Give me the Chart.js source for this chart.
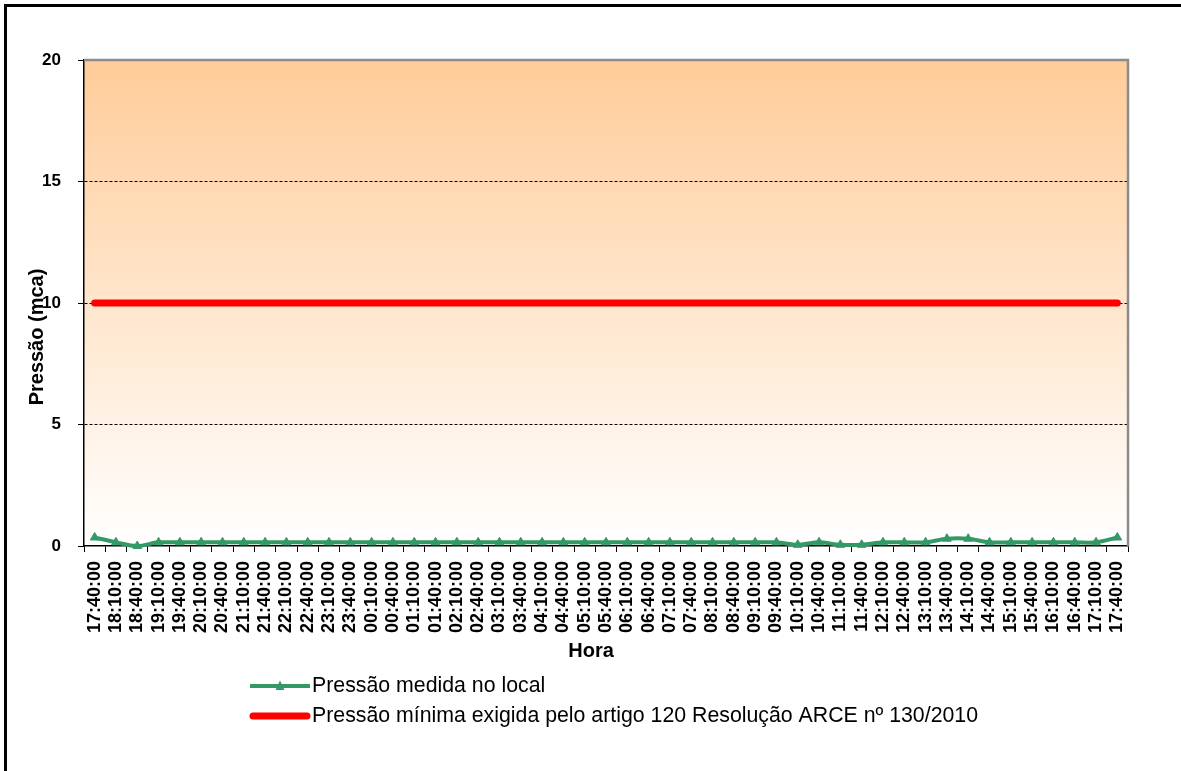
<!DOCTYPE html>
<html><head><meta charset="utf-8">
<script src="https://cdn.jsdelivr.net/npm/chart.js@4.4.1/dist/chart.umd.min.js"></script>
<style>
html,body{margin:0;padding:0;background:#fff;overflow:hidden;}
#wrap{position:relative;width:1181px;height:771px;overflow:hidden;}
#frame{position:absolute;left:4px;top:4px;width:1300px;height:900px;border:3px solid #000;box-sizing:border-box;}
#c{position:absolute;left:0;top:0;}
</style></head><body>
<div id="wrap"><div id="frame"></div><canvas id="c" width="1181" height="771"></canvas></div>
<script>
const categories = ["17:40:00","18:10:00","18:40:00","19:10:00","19:40:00","20:10:00","20:40:00","21:10:00","21:40:00","22:10:00","22:40:00","23:10:00","23:40:00","00:10:00","00:40:00","01:10:00","01:40:00","02:10:00","02:40:00","03:10:00","03:40:00","04:10:00","04:40:00","05:10:00","05:40:00","06:10:00","06:40:00","07:10:00","07:40:00","08:10:00","08:40:00","09:10:00","09:40:00","10:10:00","10:40:00","11:10:00","11:40:00","12:10:00","12:40:00","13:10:00","13:40:00","14:10:00","14:40:00","15:10:00","15:40:00","16:10:00","16:40:00","17:10:00","17:40:00"];
const measuredPressure = [0.35,0.15,0.0,0.15,0.15,0.15,0.15,0.15,0.15,0.15,0.15,0.15,0.15,0.15,0.15,0.15,0.15,0.15,0.15,0.15,0.15,0.15,0.15,0.15,0.15,0.15,0.15,0.15,0.15,0.15,0.15,0.15,0.15,0.05,0.15,0.05,0.05,0.15,0.15,0.15,0.3,0.3,0.15,0.15,0.15,0.15,0.15,0.15,0.35];
const minimumPressure = [10,10,10,10,10,10,10,10,10,10,10,10,10,10,10,10,10,10,10,10,10,10,10,10,10,10,10,10,10,10,10,10,10,10,10,10,10,10,10,10,10,10,10,10,10,10,10,10,10];
const yTicks = [0,5,10,15,20];
const seriesNames = ["Pressão medida no local","Pressão mínima exigida pelo artigo 120 Resolução ARCE nº 130/2010"];
const yTitle = "Pressão (mca)";
const xTitle = "Hora";

const FONT = "'Liberation Sans', Arial, sans-serif";

const bgPlugin = {
  id: 'bg',
  beforeDraw(chart) {
    const {ctx, chartArea: a} = chart;
    const g = ctx.createLinearGradient(0, a.top, 0, a.bottom);
    g.addColorStop(0, '#FFCC99');
    g.addColorStop(1, '#FFFFFF');
    ctx.save();
    ctx.fillStyle = g;
    ctx.fillRect(a.left, a.top, a.right - a.left, a.bottom - a.top);
    ctx.restore();
  },
  beforeDatasetsDraw(chart) {
    const {ctx, chartArea: a} = chart;
    ctx.save();
    ctx.strokeStyle = '#8c8c8c';
    ctx.lineWidth = 2.5;
    ctx.beginPath();
    ctx.moveTo(a.left, a.top);
    ctx.lineTo(a.right, a.top);
    ctx.lineTo(a.right, a.bottom);
    ctx.stroke();
    ctx.restore();
  },
  afterDraw(chart) {
    const {ctx} = chart;
    ctx.save();
    ctx.fillStyle = '#000';
    ctx.font = "bold 20px " + FONT;
    ctx.textAlign = 'center';
    ctx.textBaseline = 'middle';
    ctx.save();
    ctx.translate(37, 337);
    ctx.rotate(-Math.PI / 2);
    ctx.fillText(yTitle, 0, 0);
    ctx.restore();
    ctx.fillText(xTitle, 591, 651);
    const rows = [686, 716];
    chart.data.datasets.forEach((ds, i) => {
      const y = rows[i];
      ctx.save();
      ctx.strokeStyle = ds.borderColor;
      ctx.lineWidth = ds.borderWidth;
      ctx.lineCap = i === 1 ? 'round' : 'butt';
      ctx.beginPath();
      ctx.moveTo(i === 1 ? 253 : 250, y);
      ctx.lineTo(i === 1 ? 307 : 310, y);
      ctx.stroke();
      if (ds.pointRadius > 0) {
        ctx.fillStyle = ds.backgroundColor;
        const r = ds.pointRadius;
        ctx.beginPath();
        ctx.moveTo(280, y - r * 1.1);
        ctx.lineTo(280 + r * 0.9, y + r * 0.8);
        ctx.lineTo(280 - r * 0.9, y + r * 0.8);
        ctx.closePath();
        ctx.fill();
      }
      ctx.restore();
      ctx.font = "21.3px " + FONT;
      ctx.textAlign = 'left';
      ctx.textBaseline = 'middle';
      ctx.fillStyle = '#000';
      ctx.fillText(ds.label, 312, y);
    });
    ctx.restore();
  }
};

new Chart(document.getElementById('c'), {
  type: 'line',
  data: {
    labels: categories,
    datasets: [
      {
        label: seriesNames[0],
        data: measuredPressure,
        borderColor: '#339966',
        backgroundColor: '#339966',
        borderWidth: 4,
        pointStyle: 'triangle',
        pointRadius: 5,
        pointBorderWidth: 1,
        tension: 0.3,
        clip: false
      },
      {
        label: seriesNames[1],
        data: minimumPressure,
        borderColor: '#FF0000',
        backgroundColor: '#FF0000',
        borderWidth: 7,
        borderCapStyle: 'round',
        pointRadius: 0,
        tension: 0,
        clip: false
      }
    ]
  },
  options: {
    responsive: false,
    animation: false,
    devicePixelRatio: 1,
    layout: { padding: { left: 0, top: 60, right: 53, bottom: 0 } },
    plugins: { legend: { display: false }, tooltip: { enabled: false } },
    scales: {
      x: {
        offset: true,
        afterFit: s => { s.height = 225; },
        grid: { offset: true, drawOnChartArea: false, drawTicks: true, tickLength: 6, tickColor: '#000', tickWidth: 1 },
        border: { display: true, color: '#000', width: 1.5 },
        ticks: {
          autoSkip: false, maxRotation: 90, minRotation: 90, padding: 9,
          color: '#000', font: { family: FONT, size: 18, weight: 'bold' }
        }
      },
      y: {
        min: 0, max: 20,
        afterFit: s => { s.width = 84; },
        afterBuildTicks: s => { s.ticks = yTicks.map(v => ({ value: v })); },
        grid: {
          color: c => (c.tick && (c.tick.value === 0 || c.tick.value === 20)) ? 'rgba(0,0,0,0)' : '#000',
          lineWidth: 1, tickLength: 6, tickColor: '#000', tickWidth: 1
        },
        border: { display: true, color: '#000', width: 1.5, dash: [3, 2] },
        ticks: {
          padding: 17, color: '#000', font: { family: FONT, size: 17, weight: 'bold' }
        }
      }
    }
  },
  plugins: [bgPlugin]
});
</script>
</body></html>
